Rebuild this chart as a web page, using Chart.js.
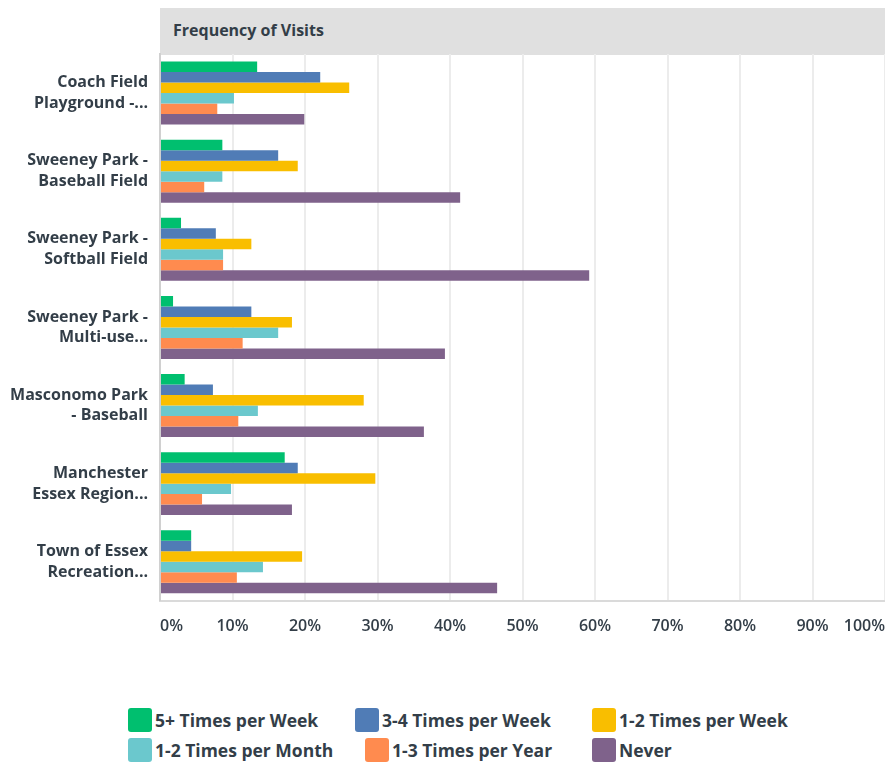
<!DOCTYPE html>
<html>
<head>
<meta charset="utf-8">
<script src="https://cdn.jsdelivr.net/npm/chart.js@4.4.1/dist/chart.umd.min.js"></script>
<style>
    body { margin: 0; background: #fff; font-family: "Open Sans", sans-serif; color: #333e48; }
    #wrap { position: relative; width: 885px; height: 764px; }
    #header {
        position: absolute; left: 160px; top: 8px; width: 725px; height: 47px;
        background: #e0e0e0; font-size: 16px; font-weight: 700; line-height: 44px;
        padding-left: 13px; box-sizing: border-box;
    }
    #chart-box { position: absolute; left: 0; top: 0; width: 885px; height: 652px; }
    #legend {
        position: absolute; left: 128px; top: 708px;
        display: grid; grid-template-columns: 227px 237px auto; row-gap: 6px;
    }
    .item { display: flex; align-items: center; font-size: 17.5px; font-weight: 700; height: 24px; }
    .item:nth-child(5) { margin-left: 10px; }
    .swatch { width: 24px; height: 24px; border-radius: 3px; margin-right: 3px; }
</style>
</head>
<body>
<div id="wrap">
    <div id="header">Frequency of Visits</div>
    <div id="chart-box"><canvas id="visits-chart"></canvas></div>
    <div id="legend"></div>
</div>
<script>
const categories = [
    ['Coach Field', 'Playground -...'],
    ['Sweeney Park -', 'Baseball Field'],
    ['Sweeney Park -', 'Softball Field'],
    ['Sweeney Park -', 'Multi-use...'],
    ['Masconomo Park', '- Baseball'],
    ['Manchester', 'Essex Region...'],
    ['Town of Essex', 'Recreation...']
];

const seriesNames = ['5+ Times per Week', '3-4 Times per Week', '1-2 Times per Week', '1-2 Times per Month', '1-3 Times per Year', 'Never'];
const seriesColors = ['#00bf6f', '#507cb6', '#f9be00', '#6bc8cd', '#ff8b4f', '#7f628b'];

const fivePlusWeek   = [13.4, 8.6, 2.9, 1.8, 3.4, 17.2, 4.3];
const threeFourWeek  = [22.1, 16.3, 7.7, 12.6, 7.3, 19.0, 4.3];
const oneTwoWeek     = [26.1, 19.0, 12.6, 18.2, 28.1, 29.7, 19.6];
const oneTwoMonth    = [10.2, 8.6, 8.7, 16.3, 13.5, 9.8, 14.2];
const oneThreeYear   = [7.9, 6.1, 8.7, 11.4, 10.8, 5.8, 10.6];
const never          = [19.9, 41.4, 59.2, 39.3, 36.4, 18.2, 46.5];

const tickValues = [0, 10, 20, 30, 40, 50, 60, 70, 80, 90, 100];

const seriesValues = [fivePlusWeek, threeFourWeek, oneTwoWeek, oneTwoMonth, oneThreeYear, never];
const textColor = '#333e48';
const fontFamily = '"Open Sans", sans-serif';

const datasets = seriesNames.map((name, i) => ({
    label: name,
    data: seriesValues[i],
    backgroundColor: seriesColors[i],
    borderWidth: 0,
    barPercentage: 1,
    categoryPercentage: 0.806
}));

new Chart(document.getElementById('visits-chart'), {
    type: 'bar',
    data: { labels: categories, datasets: datasets },
    options: {
        indexAxis: 'y',
        responsive: true,
        maintainAspectRatio: false,
        animation: false,
        layout: { padding: { top: 54, right: 0, bottom: 0, left: 0 } },
        plugins: {
            legend: { display: false },
            tooltip: { enabled: false }
        },
        scales: {
            x: {
                min: 0,
                max: 100,
                afterBuildTicks: (scale) => {
                    scale.ticks = tickValues.map(v => ({ value: v }));
                },
                afterFit: (scale) => {
                    // last label is right aligned, no extra room needed
                    scale.paddingLeft = 0;
                    scale.paddingRight = 0;
                },
                ticks: {
                    align: 'inner',
                    padding: 16,
                    color: textColor,
                    font: { family: fontFamily, size: 16, weight: '600' },
                    callback: (v) => v + '%'
                },
                grid: { color: '#ececec', lineWidth: 2, drawTicks: false },
                border: { color: '#dadada', width: 2 }
            },
            y: {
                afterFit: (scale) => { scale.width = 160; },
                ticks: {
                    padding: 12,
                    color: textColor,
                    font: { family: fontFamily, size: 16, weight: '700', lineHeight: 1.3 }
                },
                grid: { display: false, drawTicks: false },
                border: { color: '#d0d0d0', width: 2 }
            }
        }
    }
});

// legend drawn as html so the rows line up in columns
const legendBox = document.getElementById('legend');
seriesNames.forEach((name, i) => {
    const item = document.createElement('div');
    item.className = 'item';
    item.innerHTML = `<span class="swatch" style="background:${seriesColors[i]}"></span>${name}`;
    legendBox.appendChild(item);
});
</script>
</body>
</html>
